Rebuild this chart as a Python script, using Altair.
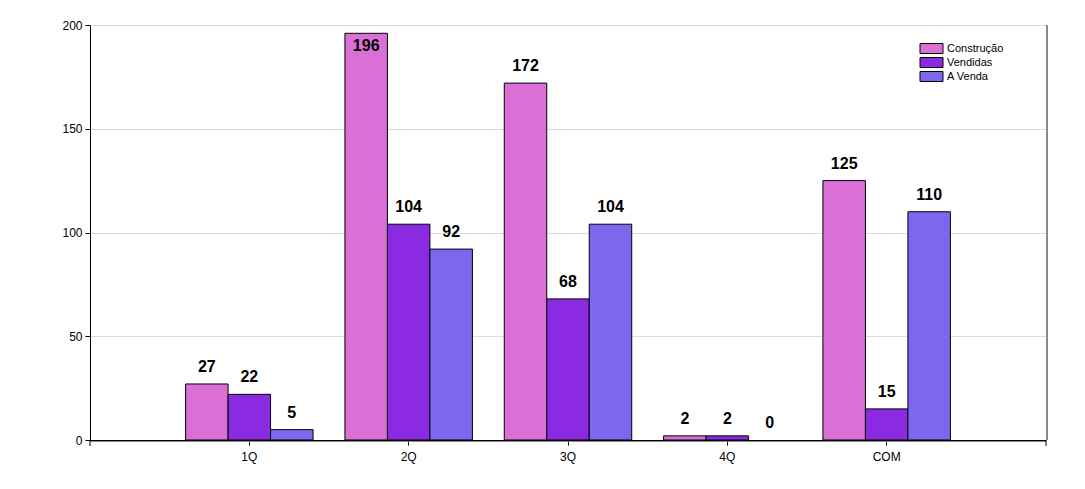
import altair as alt
import pandas as pd

categories = ["1Q", "2Q", "3Q", "4Q", "COM"]
series = ["Construção", "Vendidas", "A Venda"]
construcao = [27, 196, 172, 2, 125]
vendidas = [22, 104, 68, 2, 15]
a_venda = [5, 92, 104, 0, 110]
colors = ["#DA70D6", "#8A2BE2", "#7B68EE"]

rows = []
for i, c in enumerate(categories):
    for s, vals in zip(series, [construcao, vendidas, a_venda]):
        rows.append({"cat": c, "serie": s, "valor": vals[i]})
df = pd.DataFrame(rows)

W, H = 956, 415
FONT = "Liberation Sans"

x = alt.X("cat:N", sort=categories, title=None,
          scale=alt.Scale(paddingInner=0.2, paddingOuter=0.6),
          axis=alt.Axis(labelAngle=0, labelFontSize=12, labelColor="#000", labelFont=FONT,
                        domainColor="#000", tickColor="#000", tickSize=5, labelPadding=6,
                        grid=False))
xo = alt.XOffset("serie:N", sort=series, scale=alt.Scale(paddingInner=0, paddingOuter=0))
y = alt.Y("valor:Q", title=None,
          scale=alt.Scale(domain=[0, 200], nice=False),
          axis=alt.Axis(values=[0, 50, 100, 150, 200], labelFontSize=12, labelColor="#000",
                        labelFont=FONT, domainColor="#000", tickColor="#000", tickSize=5,
                        gridColor="#dcdcdc", labelPadding=3))
color = alt.Color("serie:N", sort=series, scale=alt.Scale(domain=series, range=colors),
                  legend=alt.Legend(title=None, orient="none", legendX=836, legendY=18,
                                    padding=0, symbolType="M-2.3,-1H2.3V1H-2.3Z", symbolSize=100,
                                    symbolStrokeColor="#000", symbolStrokeWidth=1,
                                    symbolOpacity=1, labelFont=FONT, labelFontSize=11,
                                    labelColor="#000", labelOffset=10, rowPadding=-1))

base = alt.Chart(df)
bars = base.transform_filter("datum.valor > 0").mark_bar(
    stroke="#000", strokeWidth=1, opacity=1).encode(x=x, xOffset=xo, y=y, color=color)

txt_above = base.transform_filter("datum.valor < 190").mark_text(
    baseline="bottom", dy=-9, fontSize=16, fontWeight="bold", font=FONT, color="#000"
).encode(x=x, xOffset=xo, y=y, text="valor:Q")
txt_inside = base.transform_filter("datum.valor >= 190").mark_text(
    baseline="top", dy=5, fontSize=16, fontWeight="bold", font=FONT, color="#000"
).encode(x=x, xOffset=xo, y=y, text="valor:Q")

right_border = alt.Chart(pd.DataFrame({"a": [0]})).mark_rule(color="#888", strokeWidth=2).encode(
    x=alt.value(W + 1), y=alt.value(0), y2=alt.value(H))
end_ticks = alt.Chart(pd.DataFrame({"p": [0, W]})).mark_rule(color="#000", strokeWidth=1).encode(
    x=alt.X("p:Q", scale=None), y=alt.value(H), y2=alt.value(H + 6))
bottom_shadow = alt.Chart(pd.DataFrame({"a": [0]})).mark_rule(color="#888", strokeWidth=1).encode(
    x=alt.value(0), x2=alt.value(W), y=alt.value(H + 1.5))

chart = alt.layer(bars, txt_above, txt_inside, right_border, bottom_shadow, end_ticks).properties(
    width=W, height=H, autosize="none",
    padding={"left": 90, "top": 25, "right": 39, "bottom": 49},
    background="#ffffff"
).configure_view(stroke=None)

chart.save("out.html", embed_options={"renderer": "svg", "actions": False})
